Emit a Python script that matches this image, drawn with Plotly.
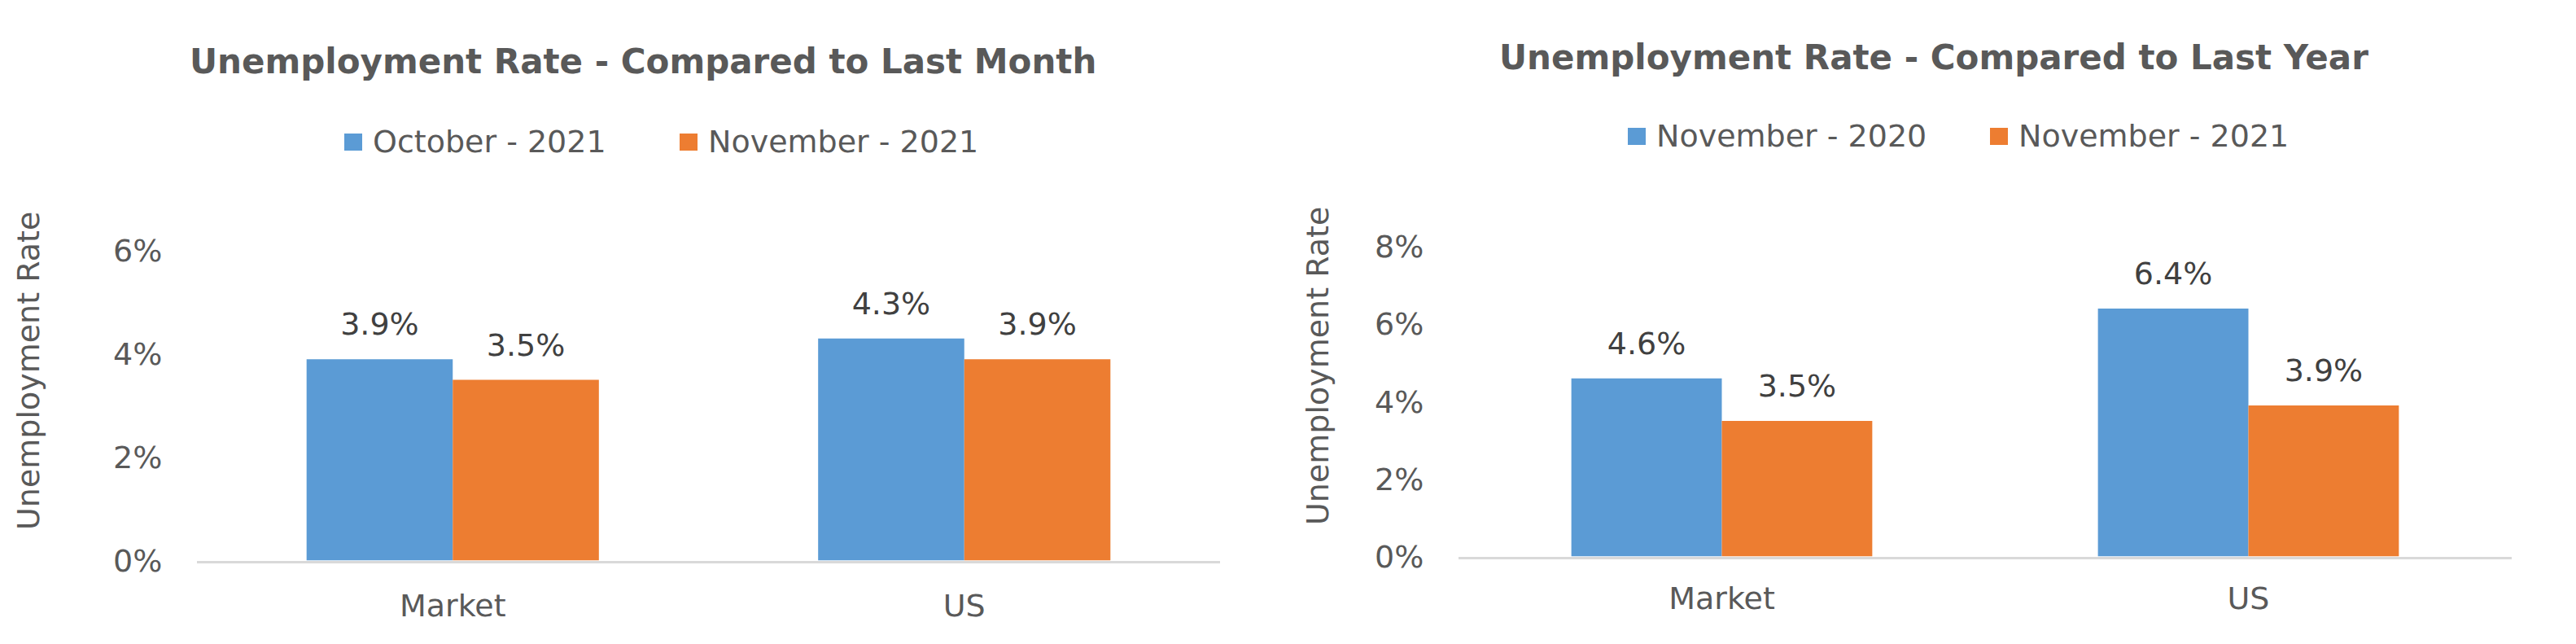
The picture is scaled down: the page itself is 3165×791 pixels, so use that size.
import plotly.graph_objects as go

W, H = 3165, 791

categories = ["Market", "US"]

month_names = ["October - 2021", "November - 2021"]
month_prev = [3.9, 4.3]
month_curr = [3.5, 3.9]

year_names = ["November - 2020", "November - 2021"]
year_prev = [4.6, 6.4]
year_curr = [3.5, 3.9]

titles = ["Unemployment Rate - Compared to Last Month",
          "Unemployment Rate - Compared to Last Year"]
y_title = "Unemployment Rate"

BLUE = "#5B9BD5"
ORANGE = "#ED7D31"
GREY_TXT = "#595959"
LABEL_TXT = "#404040"
FONT = "DejaVu Sans"


def px_x(v):
    return v / W


def px_y(v):
    return 1 - v / H


fig = go.Figure()

panels = [
    ("x", "y", month_names, [month_prev, month_curr]),
    ("x2", "y2", year_names, [year_prev, year_curr]),
]
for xa, ya, names, series in panels:
    for name, vals, col in zip(names, series, [BLUE, ORANGE]):
        fig.add_trace(go.Bar(x=categories, y=vals, name=name, marker_color=col,
                             marker_line_width=0, xaxis=xa, yaxis=ya,
                             showlegend=False, hoverinfo="skip"))
    for name, vals in zip(names, series):
        fig.add_trace(go.Scatter(
            x=categories, y=vals, mode="markers+text",
            text=["%.1f%%" % v for v in vals], textposition="top center",
            textfont=dict(family=FONT, size=38, color=LABEL_TXT),
            marker=dict(size=31, opacity=0), cliponaxis=False,
            xaxis=xa, yaxis=ya, showlegend=False, hoverinfo="skip"))

axis_common = dict(showgrid=False, zeroline=False, fixedrange=True,
                   automargin=False,
                   tickfont=dict(family=FONT, size=38, color=GREY_TXT))
fig.update_layout(
    width=W, height=H,
    margin=dict(l=0, r=0, t=0, b=0, pad=0),
    paper_bgcolor="white", plot_bgcolor="white",
    barmode="group", bargap=1.5 / 3.5, bargroupgap=0,
    scattermode="group",
    showlegend=False,
    xaxis=dict(domain=[px_x(242), px_x(1499)], anchor="y", showline=True,
               linecolor="#D9D9D9", linewidth=3, ticks="outside", ticklen=20,
               tickcolor="rgba(0,0,0,0)", **axis_common),
    yaxis=dict(domain=[px_y(688.5), px_y(308)], anchor="x", range=[0, 6],
               dtick=2, ticksuffix="%", showline=False, ticks="outside",
               ticklen=34, tickcolor="rgba(0,0,0,0)", **axis_common),
    xaxis2=dict(domain=[px_x(1792), px_x(3086)], anchor="y2", showline=True,
                linecolor="#D9D9D9", linewidth=3, ticks="outside", ticklen=16,
                tickcolor="rgba(0,0,0,0)", **axis_common),
    yaxis2=dict(domain=[px_y(683.5), px_y(303)], anchor="x2", range=[0, 8],
                dtick=2, ticksuffix="%", showline=False, ticks="outside",
                ticklen=34, tickcolor="rgba(0,0,0,0)", **axis_common),
)

# titles
for txt, cx, cy in [(titles[0], 790, 76), (titles[1], 2376, 70)]:
    fig.add_annotation(text="<b>%s</b>" % txt, x=px_x(cx), y=px_y(cy),
                       xref="paper", yref="paper", showarrow=False,
                       xanchor="center", yanchor="middle",
                       font=dict(family=FONT, size=42, color=GREY_TXT))

# y axis titles
for cx, cy in [(35, 456), (1619, 450)]:
    fig.add_annotation(text=y_title, x=px_x(cx), y=px_y(cy), textangle=-90,
                       xref="paper", yref="paper", showarrow=False,
                       xanchor="center", yanchor="middle",
                       font=dict(family=FONT, size=38, color=GREY_TXT))

# legends drawn by hand so the swatches match the reference size
legend_items = [
    (month_names[0], BLUE, 423, 174),
    (month_names[1], ORANGE, 835, 174),
    (year_names[0], BLUE, 2000, 167),
    (year_names[1], ORANGE, 2445, 167),
]
for name, col, sx, cy in legend_items:
    fig.add_shape(type="rect", xref="paper", yref="paper",
                  x0=px_x(sx), x1=px_x(sx + 22), y0=px_y(cy + 11), y1=px_y(cy - 10),
                  fillcolor=col, line_width=0)
    fig.add_annotation(text=name, x=px_x(sx + 33), y=px_y(cy), xref="paper",
                       yref="paper", showarrow=False, xanchor="left",
                       yanchor="middle",
                       font=dict(family=FONT, size=38, color=GREY_TXT))

# the page body has a default margin; drop it so the figure sits at 0,0
fig.write_html("out.html", config={"displayModeBar": False},
               post_script="document.body.style.margin='0';")
